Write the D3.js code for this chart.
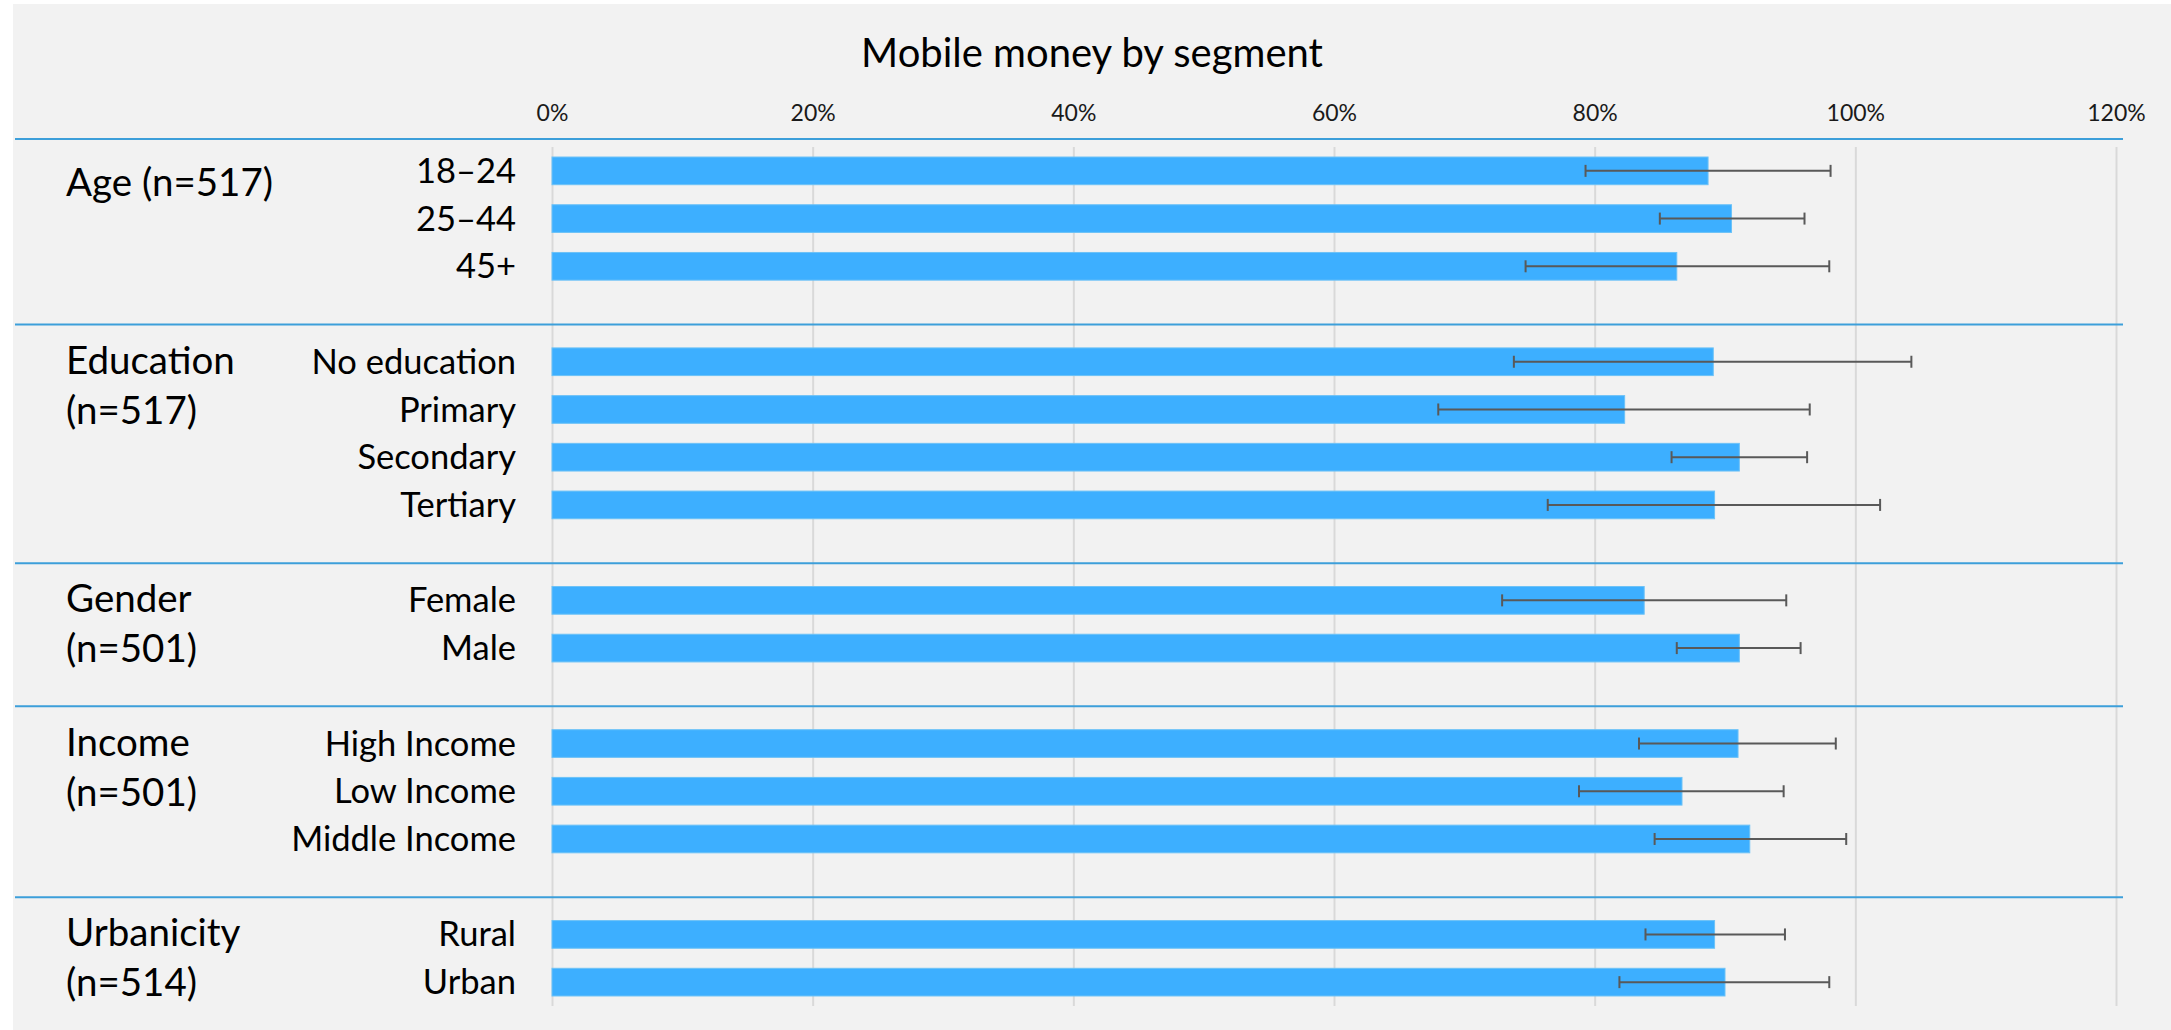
<!DOCTYPE html>
<meta charset="utf-8">
<style>

html, body {
  margin: 0;
  padding: 0;
  background: #fff;
}

text {
  font-family: Lato, "Open Sans", sans-serif;
  fill: #000;
}

.grid line {
  stroke: #d9d9d9;
  stroke-width: 2px;
}

.grid text {
  font-size: 23px;
  fill: #1a1a1a;
}

.bar {
  fill: #3dafff;
  stroke: #6cc2f7;
  stroke-width: 1px;
}

.err {
  stroke: #595959;
  stroke-width: 2px;
  fill: none;
}

.sep {
  stroke: #3d9fda;
  stroke-width: 2px;
}

</style>
<body><svg width="2171" height="1030"></svg></body>
<script src="https://d3js.org/d3.v7.min.js"></script>
<script>

// categories, in display order
var categories = ["18–24", "25–44", "45+",
                  "No education", "Primary", "Secondary", "Tertiary",
                  "Female", "Male",
                  "High Income", "Low Income", "Middle Income",
                  "Rural", "Urban"];
var categoryGroup = [0, 0, 0, 1, 1, 1, 1, 2, 2, 3, 3, 3, 4, 4];

var groupLabels = [["Age (n=517)"],
                   ["Education", "(n=517)"],
                   ["Gender", "(n=501)"],
                   ["Income", "(n=501)"],
                   ["Urbanicity", "(n=514)"]];

// share using mobile money, % (bar) and error bar ends
var values  = [88.7, 90.5, 86.3, 89.1, 82.3, 91.1, 89.2, 83.8, 91.1, 91.0, 86.7, 91.9, 89.2, 90.0];
var errLow  = [79.3, 85.0, 74.7, 73.8, 68.0, 85.9, 76.4, 72.9, 86.3, 83.4, 78.8, 84.6, 83.9, 81.9];
var errHigh = [98.1, 96.1, 98.0, 104.3, 96.5, 96.3, 101.9, 94.7, 95.8, 98.5, 94.5, 99.3, 94.6, 98.0];

var xTicks = [0, 20, 40, 60, 80, 100, 120];

var svg = d3.select("svg"),
    width = +svg.attr("width"),
    height = +svg.attr("height");

var plot = {left: 552, right: 2116, top: 147, bottom: 1006};

// rows: each group's categories, with an empty row between groups
var rows = [];
groupLabels.forEach(function(g, gi) {
  if (gi > 0) rows.push("gap" + gi);
  categories.forEach(function(c, i) {
    if (categoryGroup[i] === gi) rows.push(c);
  });
});

var x = d3.scaleLinear()
    .domain([0, 120])
    .range([plot.left, plot.right]);

var y = d3.scaleBand()
    .domain(rows)
    .range([plot.top, plot.bottom])
    .paddingInner(0.42)
    .paddingOuter(0.21);

var step = y.step();
function yc(k) { return y(k) + y.bandwidth() / 2; }

// chart area
svg.append("rect")
    .attr("x", 13)
    .attr("y", 4)
    .attr("width", width - 13)
    .attr("height", height - 4)
    .attr("fill", "#f2f2f2");

svg.append("text")
    .attr("x", (13 + width) / 2)
    .attr("y", 67)
    .attr("text-anchor", "middle")
    .style("font-size", "40px")
    .text("Mobile money by segment");

// gridlines + tick labels
svg.append("g")
    .attr("class", "grid")
    .attr("transform", "translate(0," + plot.top + ")")
    .call(d3.axisTop(x)
        .tickValues(xTicks)
        .tickSize(-(plot.bottom - plot.top))
        .tickPadding(26)
        .tickFormat(function(d) { return d + "%"; }))
    .call(function(g) { g.select(".domain").remove(); });

// group separators
var sepY = [plot.top - 8];
rows.forEach(function(r) {
  if (r.indexOf("gap") === 0) sepY.push(yc(r) + step * 0.22);
});

svg.selectAll(".sep")
    .data(sepY)
  .enter().append("line")
    .attr("class", "sep")
    .attr("x1", 15)
    .attr("x2", 2123)
    .attr("y1", function(d) { return d; })
    .attr("y2", function(d) { return d; });

// bars
svg.selectAll(".bar")
    .data(categories)
  .enter().append("rect")
    .attr("class", "bar")
    .attr("x", x(0))
    .attr("y", function(d) { return y(d); })
    .attr("width", function(d, i) { return x(values[i]) - x(0); })
    .attr("height", y.bandwidth());

// error bars
var eb = svg.selectAll(".errbar")
    .data(categories)
  .enter().append("g")
    .attr("class", "err")
    .attr("transform", function(d) { return "translate(0," + yc(d) + ")"; });

eb.append("line")
    .attr("x1", function(d, i) { return x(errLow[i]); })
    .attr("x2", function(d, i) { return x(errHigh[i]); });

eb.append("line")
    .attr("x1", function(d, i) { return x(errLow[i]); })
    .attr("x2", function(d, i) { return x(errLow[i]); })
    .attr("y1", -6).attr("y2", 6);

eb.append("line")
    .attr("x1", function(d, i) { return x(errHigh[i]); })
    .attr("x2", function(d, i) { return x(errHigh[i]); })
    .attr("y1", -6).attr("y2", 6);

// category labels
svg.selectAll(".cat")
    .data(categories)
  .enter().append("text")
    .attr("class", "cat")
    .attr("x", plot.left - 36)
    .attr("y", function(d) { return yc(d); })
    .attr("dy", "0.35em")
    .attr("text-anchor", "end")
    .style("font-size", "34.5px")
    .text(function(d) { return d; });

// group labels
svg.selectAll(".grp")
    .data(groupLabels)
  .enter().append("text")
    .attr("class", "grp")
    .attr("x", 66)
    .attr("y", function(d, gi) {
      var first = categories[categoryGroup.indexOf(gi)];
      return yc(first) + 12 + (d.length === 1 ? 13 : 0);
    })
    .style("font-size", "38.5px")
  .selectAll("tspan")
    .data(function(d) { return d; })
  .enter().append("tspan")
    .attr("x", 66)
    .attr("dy", function(d, i) { return i ? 50 : 0; })
    .text(function(d) { return d; });

</script>
